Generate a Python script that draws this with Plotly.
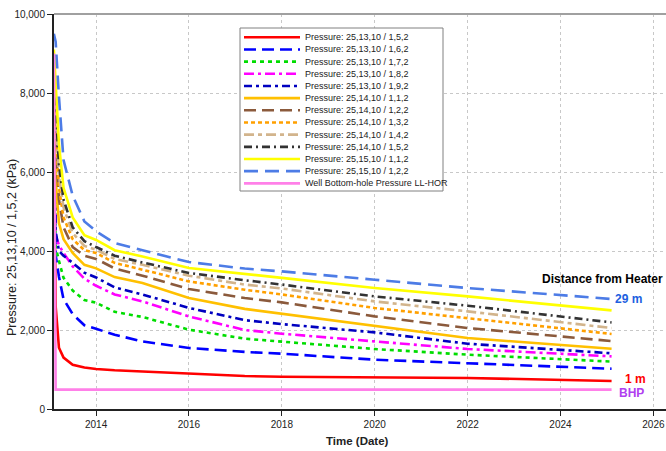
import plotly.graph_objects as go

# Time axis (dates)
dates = ["2013-02-03", "2013-02-17", "2013-03-15", "2013-04-20", "2013-07-01",
         "2013-10-01", "2014-01-01", "2014-05-27", "2015-01-01", "2016-01-01",
         "2017-03-15", "2018-01-01", "2020-01-01", "2022-01-01", "2025-02-06"]

names = [
    "Pressure: 25,13,10 / 1,5,2",
    "Pressure: 25,13,10 / 1,6,2",
    "Pressure: 25,13,10 / 1,7,2",
    "Pressure: 25,13,10 / 1,8,2",
    "Pressure: 25,13,10 / 1,9,2",
    "Pressure: 25,14,10 / 1,1,2",
    "Pressure: 25,14,10 / 1,2,2",
    "Pressure: 25,14,10 / 1,3,2",
    "Pressure: 25,14,10 / 1,4,2",
    "Pressure: 25,14,10 / 1,5,2",
    "Pressure: 25,15,10 / 1,1,2",
    "Pressure: 25,15,10 / 1,2,2",
    "Well Bottom-hole Pressure LL-HOR",
]

p_13_152 = [7000, 2600, 1550, 1300, 1120, 1050, 1013, 980, 950, 894, 835, 815, 800, 785, 710]
p_13_162 = [7200, 3900, 3350, 2780, 2400, 2120, 2030, 1880, 1711, 1544, 1445, 1400, 1248, 1165, 1020]
p_13_172 = [7400, 4100, 3750, 3320, 3000, 2760, 2690, 2460, 2330, 2008, 1780, 1700, 1519, 1375, 1200]
p_13_182 = [7600, 4400, 4150, 3950, 3610, 3300, 3120, 2900, 2724, 2344, 2000, 1906, 1711, 1519, 1332]
p_13_192 = [7800, 4500, 4000, 3880, 3700, 3450, 3330, 3080, 2900, 2560, 2250, 2150, 1939, 1653, 1410]
p_14_112 = [8000, 5800, 4700, 4300, 3950, 3650, 3560, 3340, 3190, 2810, 2535, 2413, 2091, 1797, 1525]
p_14_122 = [8200, 6700, 5300, 4600, 4100, 3880, 3800, 3560, 3375, 3038, 2810, 2699, 2344, 2051, 1720]
p_14_132 = [8400, 7000, 5600, 4850, 4300, 4020, 3950, 3700, 3527, 3230, 3020, 2900, 2557, 2304, 1900]
p_14_142 = [8600, 7300, 5900, 5100, 4450, 4130, 4030, 3800, 3650, 3375, 3150, 3050, 2724, 2471, 2050]
p_14_152 = [8800, 7600, 6200, 5300, 4600, 4250, 4100, 3880, 3710, 3443, 3260, 3150, 2851, 2615, 2192]
p_15_112 = [9100, 8200, 6700, 5600, 4850, 4400, 4280, 4020, 3860, 3570, 3410, 3320, 3063, 2851, 2496]
p_15_122 = [9500, 9300, 7900, 6300, 5400, 4750, 4500, 4200, 4020, 3720, 3555, 3484, 3273, 3063, 2785]
bhp = [9000, 490, 490, 490, 490, 490, 490, 490, 490, 490, 490, 490, 490, 490, 490]

series = [p_13_152, p_13_162, p_13_172, p_13_182, p_13_192, p_14_112, p_14_122,
          p_14_132, p_14_142, p_14_152, p_15_112, p_15_122, bhp]

colors = ["#FF0000", "#0000FF", "#00DD00", "#FF00FF", "#0000C0", "#FFC000",
          "#8B5A3C", "#FFA000", "#D2B48C", "#333333", "#FFFF00", "#4D7CE6", "#FF80E8"]
dashes = ["solid", "12px,6px", "4px,4px", "10px,4px,3px,4px", "8px,4px,3px,4px", "solid",
          "12px,6px", "4px,3px", "10px,4px,4px,4px", "8px,4px,2px,4px", "solid",
          "14px,7px", "solid"]

font_family = "Liberation Sans, Arial, sans-serif"

# plot area geometry (pixels)
W, H = 666, 451
L, R, T, B = 54, 0, 14, 42
PW = W - L - R
PH = H - T - B


def px(x):
    return (x - L) / PW


def py(y):
    return (H - B - y) / PH


fig = go.Figure()
for i in range(len(series)):
    fig.add_trace(go.Scatter(
        x=dates, y=series[i], mode="lines", name=names[i], showlegend=False,
        line=dict(color=colors[i], width=2.6, dash=dashes[i]),
    ))

fig.update_layout(
    width=W, height=H,
    margin=dict(l=L, r=R, t=T, b=B, autoexpand=False),
    paper_bgcolor="white", plot_bgcolor="white",
    font=dict(family=font_family, size=10, color="#222222"),
    showlegend=False,
    xaxis=dict(
        type="date", automargin=False,
        range=["2013-02-04", "2026-04-10"],
        tick0="2014-01-01", dtick="M24", tickformat="%Y",
        ticks="outside", ticklen=5, tickcolor="#222222",
        showline=True, linecolor="#222222", linewidth=2,
        showgrid=True, gridcolor="#C8C8C8", griddash="dot", gridwidth=1,
        zeroline=False,
        tickfont=dict(size=10, family=font_family),
    ),
    yaxis=dict(
        range=[0, 10000], dtick=2000, tickformat=",", automargin=False,
        ticks="outside", ticklen=5, tickcolor="#222222",
        showline=True, linecolor="#222222", linewidth=2,
        showgrid=True, gridcolor="#C8C8C8", griddash="dot", gridwidth=1,
        zeroline=False,
        tickfont=dict(size=10, family=font_family),
    ),
)

# axis titles as positioned text
fig.add_annotation(xref="paper", yref="paper", x=px(357), y=py(441),
                   text="<b>Time (Date)</b>", showarrow=False, xanchor="center", yanchor="middle",
                   font=dict(family=font_family, size=11.5, color="#222222"))
fig.add_annotation(xref="paper", yref="paper", x=px(12), y=py(248),
                   text="Pressure: 25,13,10 / 1,5,2 (kPa)", showarrow=False, textangle=-90,
                   xanchor="center", yanchor="middle",
                   font=dict(family=font_family, size=12.5, color="#222222"))

# top border line
fig.add_shape(type="line", xref="paper", yref="paper", x0=0, x1=1, y0=1, y1=1,
              line=dict(color="#A0A0A0", width=2))

# custom legend (compact, as in the reference)
box_l, box_r, box_t, box_b = 240, 443, 28, 191
fig.add_shape(type="rect", xref="paper", yref="paper",
              x0=px(box_l), x1=px(box_r), y0=py(box_b), y1=py(box_t),
              line=dict(color="#808080", width=1), fillcolor="white", layer="above")
row0, dy = 37.3, 12.17
for i in range(len(names)):
    yy = row0 + i * dy
    fig.add_shape(type="line", xref="paper", yref="paper",
                  x0=px(244), x1=px(300), y0=py(yy), y1=py(yy), layer="above",
                  line=dict(color=colors[i], width=2.6, dash=dashes[i]))
    fig.add_annotation(xref="paper", yref="paper", x=px(303), y=py(yy),
                       text=names[i], showarrow=False, xanchor="left", yanchor="middle",
                       font=dict(family=font_family, size=9, color="#222222"))

ann_font = dict(family=font_family, size=12)
fig.add_annotation(xref="paper", yref="paper", x=px(665), y=py(279),
                   text="<b>Distance from Heater</b>", showarrow=False, xanchor="right",
                   yanchor="middle", font=dict(color="#000000", **ann_font))
fig.add_annotation(xref="paper", yref="paper", x=px(613), y=py(299),
                   text="<b>29 m</b>", showarrow=False, xanchor="left",
                   yanchor="middle", font=dict(color="#2060E0", **ann_font))
fig.add_annotation(xref="paper", yref="paper", x=px(623), y=py(379),
                   text="<b>1 m</b>", showarrow=False, xanchor="left",
                   yanchor="middle", font=dict(color="#FF0000", **ann_font))
fig.add_annotation(xref="paper", yref="paper", x=px(617), y=py(393),
                   text="<b>BHP</b>", showarrow=False, xanchor="left",
                   yanchor="middle", font=dict(color="#B040F0", **ann_font))

fig.write_html("out.html",
               config={"displayModeBar": False},
               post_script="document.body.style.margin='0';document.body.style.padding='0';")
